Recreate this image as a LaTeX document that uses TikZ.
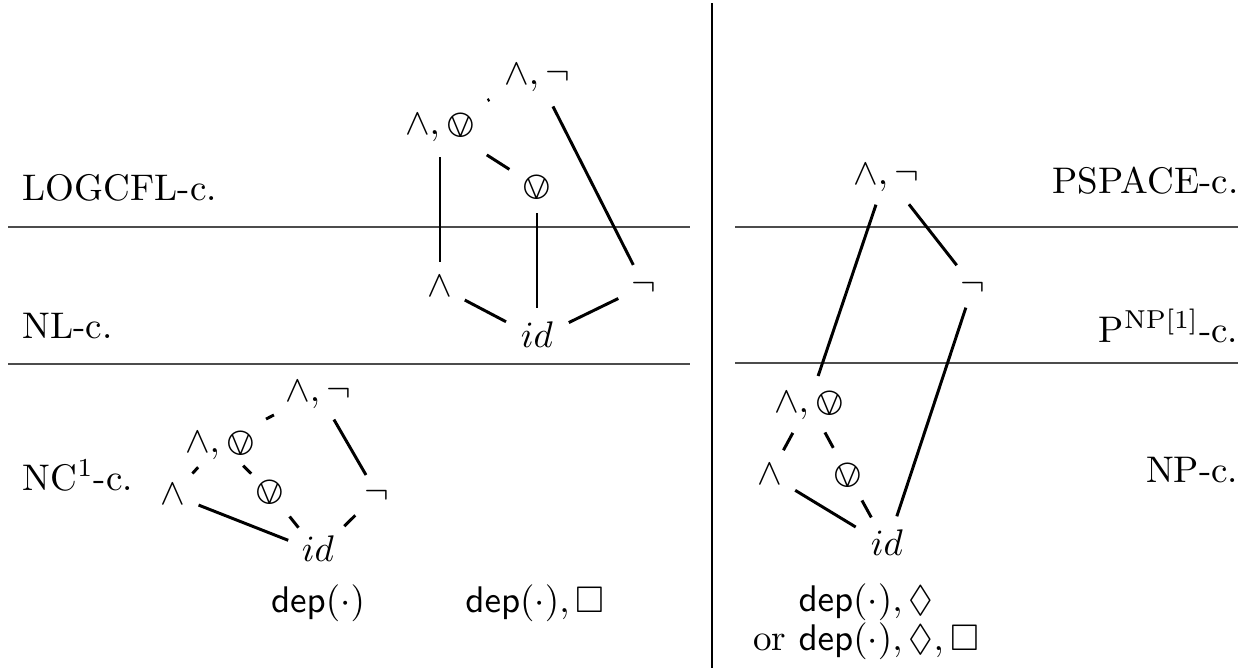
\documentclass[tikz,border=0pt]{standalone}
\usepackage{amssymb}
\usepackage{stmaryrd}
\begin{document}
\begin{tikzpicture}[x=0.27pt,y=-0.27pt,
  op/.style={inner sep=0pt,text height=1.5ex,text depth=.25ex},
  lab/.style={inner sep=0pt},
  conn/.style={line width=0.8pt},
  gapp/.style 2 args={conn,shorten <=#1*0.27pt,shorten >=#2*0.27pt},
  sep/.style={line width=0.6pt,black!70}]
\useasboundingbox (0,0) rectangle (1246,671);
% separators
\draw[sep] (8,227) -- (690,227);
\draw[sep] (8,364) -- (690,364);
\draw[sep] (735,227) -- (1238,227);
\draw[sep] (735,363) -- (1238,363);
\draw[line width=0.5pt] (712,3) -- (712,668);
% class labels
\node[lab,anchor=base west] (logcfl) at (22,200) {LOGCFL-c.};
\node[lab,anchor=base west] (nl) at (22,338) {NL-c.};
\node[lab,anchor=base west] (nc) at (22,490) {NC$^1$-c.};
\node[lab,anchor=base east] (pspace) at (1239,193) {PSPACE-c.};
\node[lab,anchor=base east] (pnp) at (1239,342) {P$^{\mathrm{NP[1]}}$-c.};
\node[lab,anchor=base east] (np) at (1239,482) {NP-c.};
% top-left lattice
\node[op] (T1) at (537,75) {$\wedge,\neg$};
\node[op] (A1) at (440,125) {$\wedge,\varovee$};
\node[op] (O1) at (537,187) {$\varovee$};
\node[op] (B1) at (440,287) {$\wedge$};
\node[op] (N1) at (644,286) {$\neg$};
\node[op] (I1) at (537,338) {$id$};
\draw[gapp={32}{25}] (A1.center) -- (B1.center);
\draw[gapp={55.5}{32.8}] (A1.center) -- (O1.center);
\draw[gapp={53.5}{53.5}] (A1.center) -- (T1.center);
\draw[gapp={35.3}{23.7}] (T1.center) -- (N1.center);
\draw[gapp={26}{30}] (O1.center) -- (I1.center);
\draw[gapp={28}{35}] (B1.center) -- (I1.center);
\draw[gapp={28.6}{35.4}] (N1.center) -- (I1.center);
% bottom-left lattice
\node[op] (T3) at (318,392) {$\wedge,\neg$};
\node[op] (A3) at (220,443) {$\wedge,\varovee$};
\node[op] (B3) at (173,495) {$\wedge$};
\node[op] (O3) at (270,492) {$\varovee$};
\node[op] (N3) at (377,494) {$\neg$};
\node[op] (I3) at (318,552) {$id$};
\draw[gapp={51.9}{49.7}] (A3.center) -- (T3.center);
\draw[gapp={31.8}{22}] (T3.center) -- (N3.center);
\draw[gapp={32.6}{29}] (A3.center) -- (B3.center);
\draw[gapp={32.5}{26.2}] (A3.center) -- (O3.center);
\draw[gapp={27.5}{32}] (B3.center) -- (I3.center);
\draw[gapp={31.4}{31.2}] (O3.center) -- (I3.center);
\draw[gapp={30.4}{36.8}] (N3.center) -- (I3.center);
% right lattice
\node[op] (T2) at (886,175) {$\wedge,\neg$};
\node[op] (N2) at (973,286) {$\neg$};
\node[op] (A2) at (809,403) {$\wedge,\varovee$};
\node[op] (B2) at (770,475) {$\wedge$};
\node[op] (O2) at (848,475) {$\varovee$};
\node[op] (I2) at (887,546) {$id$};
\draw[gapp={34}{28.2}] (A2.center) -- (B2.center);
\draw[gapp={33.5}{30.9}] (A2.center) -- (O2.center);
\draw[gapp={29.5}{36.6}] (B2.center) -- (I2.center);
\draw[gapp={29}{32.6}] (O2.center) -- (I2.center);
\draw[gapp={31.3}{28.5}] (T2.center) -- (A2.center);
\draw[gapp={37.2}{26.4}] (T2.center) -- (N2.center);
\draw[gapp={22.8}{31.3}] (N2.center) -- (I2.center);
% bottom captions
\node[lab,anchor=base] (c1) at (318,612) {$\mathsf{dep}(\cdot)$};
\node[lab,anchor=base] (c2) at (535,612) {$\mathsf{dep}(\cdot),\Box$};
\node[lab,anchor=base,align=center] (c3) at (866,650) {$\mathsf{dep}(\cdot),\Diamond$\\[-1.7pt]or $\mathsf{dep}(\cdot),\Diamond,\Box$};
\end{tikzpicture}
\end{document}
